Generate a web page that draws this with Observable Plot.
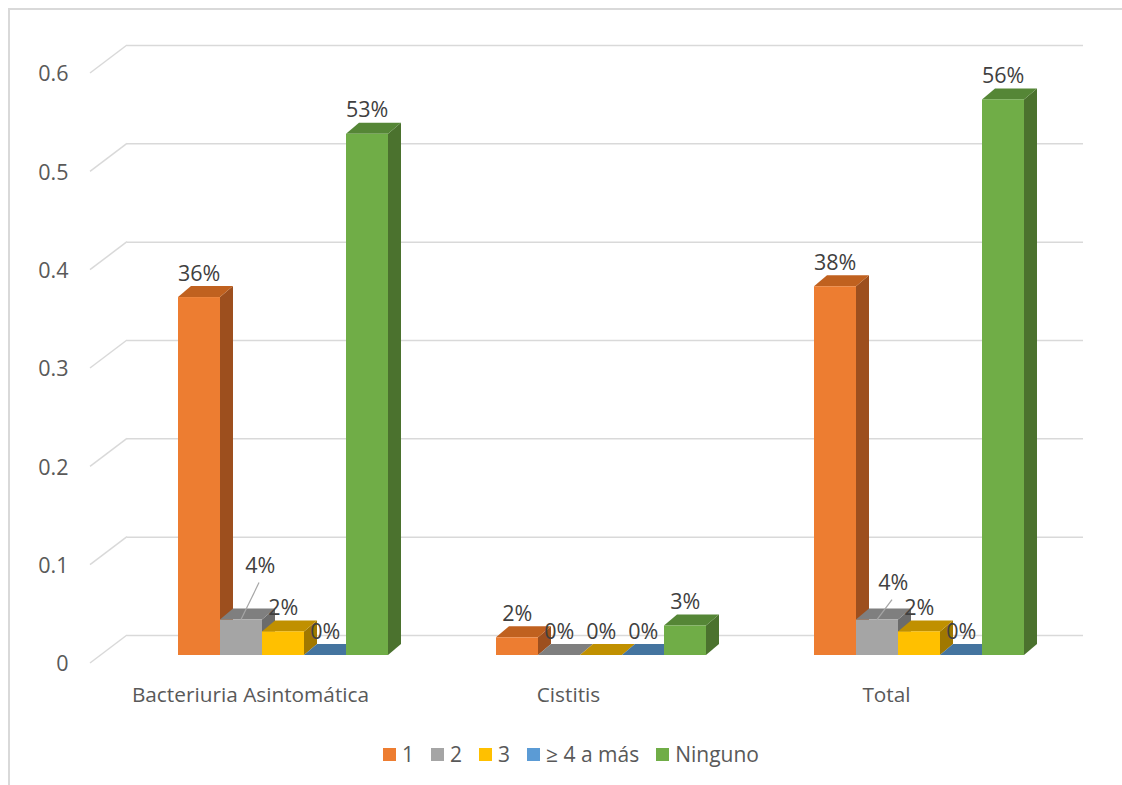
<!DOCTYPE html>
<html><head><meta charset="utf-8">
<script src="https://cdn.jsdelivr.net/npm/d3@7"></script>
<script src="https://cdn.jsdelivr.net/npm/@observablehq/plot@0.6"></script>
<style>
body{margin:0;background:#fff;font-family:"Open Sans",sans-serif}
#wrap{position:relative;width:1122px;height:785px;overflow:hidden}
#frame{position:absolute;left:8px;top:8px;right:-10px;bottom:-10px;border-left:2px solid #d9d9d9;border-top:2px solid #d9d9d9;pointer-events:none}
#chart{position:absolute;left:0;top:0}
#legend{position:absolute;left:10px;top:740px;width:1122px;display:flex;justify-content:center;align-items:center;font-size:21px;color:#595959}
.item{display:flex;align-items:center;margin:0 8.5px}
.sw{width:13px;height:13px;margin-right:6px}
</style></head><body>
<div id="wrap"><div id="frame"></div><div id="chart"></div><div id="legend"></div></div>
<script>
// ---- data ----
const categories = ["Bacteriuria Asintomática", "Cistitis", "Total"];
const seriesNames = ["1", "2", "3", "≥ 4 a más", "Ninguno"];
const valuesS1 = [0.364, 0.018, 0.375];
const valuesS2 = [0.036, 0, 0.036];
const valuesS3 = [0.024, 0, 0.024];
const valuesS4 = [0, 0, 0];
const valuesNinguno = [0.53, 0.03, 0.565];
const yTicks = [0, 0.1, 0.2, 0.3, 0.4, 0.5, 0.6];

// ---- styles ----
const palette = {
  front: ["#ED7D31", "#A5A5A5", "#FFC000", "#5B9BD5", "#70AD47"],
  top:   ["#C0611F", "#7F7F7F", "#C09000", "#44749F", "#558636"],
  side:  ["#9D4F1E", "#6B6B6B", "#A07800", "#365F87", "#4B722E"]
};
const W = 1122, H = 730, mL = 90, mR = 76, mT = 65, mB = 75;
const G = {barStart: 87, barW: 42, depthX: 13, depthY: -11, gridDX: 37, gridDY: -20, floorDY: 8};
const bandW = (W - mL - mR) / categories.length;
const labelNudges = [
  {cat: "Bacteriuria Asintomática", j: 1, dx: 19, dy: -30},
  {cat: "Total", j: 1, dx: 16, dy: -13}
];
const fmtPct = d3.format(".0%");

const seriesValues = [valuesS1, valuesS2, valuesS3, valuesS4, valuesNinguno];
const rows = seriesValues.flatMap((vals, j) => vals.map((v, i) => ({cat: categories[i], series: seriesNames[j], j, value: v})));
const nudgeOf = d => labelNudges.find(n => n.cat === d.cat && n.j === d.j);

function gridDiagonals(index, {y}) {
  const g = d3.create("svg:g").attr("stroke", "#D9D9D9").attr("stroke-width", 1.5);
  for (const t of yTicks) {
    g.append("line").attr("x1", mL).attr("y1", y(t) + G.floorDY)
      .attr("x2", mL + G.gridDX).attr("y2", y(t) + G.gridDY);
  }
  return g.node();
}

function cubes(index, {x, y}) {
  const g = d3.create("svg:g");
  for (const d of rows) {
    const x0 = x(d.cat) + G.barStart + G.barW * d.j, x1 = x0 + G.barW;
    const yb = y(0), yt = y(d.value), dx = G.depthX, dy = G.depthY;
    g.append("polygon").attr("points", [[x1, yt], [x1 + dx, yt + dy], [x1 + dx, yb + dy], [x1, yb]].join(" ")).attr("fill", palette.side[d.j]);
    g.append("polygon").attr("points", [[x0, yt], [x0 + dx, yt + dy], [x1 + dx, yt + dy], [x1, yt]].join(" ")).attr("fill", palette.top[d.j]);
    if (yb - yt > 0) g.append("rect").attr("x", x0).attr("y", yt).attr("width", G.barW).attr("height", yb - yt).attr("fill", palette.front[d.j]);
  }
  return g.node();
}

function leaders(index, {x, y}) {
  const g = d3.create("svg:g").attr("stroke", "#A6A6A6").attr("stroke-width", 1.2);
  for (const n of labelNudges) {
    const d = rows.find(r => r.cat === n.cat && r.j === n.j);
    const cx = x(d.cat) + G.barStart + G.barW * d.j + G.barW / 2;
    const yt = y(d.value);
    g.append("line").attr("x1", cx).attr("y1", yt).attr("x2", cx + n.dx - 1).attr("y2", yt - 17 + n.dy + 10);
  }
  return g.node();
}

const labelMarks = seriesNames.map((s, j) => Plot.text(rows.filter(d => d.j === j && !nudgeOf(d)), {
  x: "cat", y: "value", text: d => fmtPct(d.value),
  dx: G.barStart + G.barW * j + G.barW / 2 - bandW / 2, dy: -17,
  lineAnchor: "bottom", fill: "#404040", fontSize: 21.5
}));
const nudgedMarks = labelNudges.map(n => Plot.text(rows.filter(d => d.cat === n.cat && d.j === n.j), {
  x: "cat", y: "value", text: d => fmtPct(d.value),
  dx: G.barStart + G.barW * n.j + G.barW / 2 - bandW / 2 + n.dx, dy: -17 + n.dy,
  lineAnchor: "bottom", fill: "#404040", fontSize: 21.5
}));

const chart = Plot.plot({
  width: W, height: H,
  marginLeft: mL, marginRight: mR, marginTop: mT, marginBottom: mB,
  style: {fontFamily: "'Open Sans', sans-serif", color: "#595959", background: "transparent", overflow: "visible"},
  x: {type: "band", domain: categories, padding: 0, label: null},
  y: {domain: [0, 0.6], label: null},
  marks: [
    Plot.ruleY(yTicks, {y: d => d, dx: G.gridDX, dy: G.gridDY, stroke: "#D9D9D9", strokeWidth: 1.5}),
    gridDiagonals,
    Plot.axisY({ticks: yTicks, tickSize: 0, tickPadding: 22, dy: 9, fontSize: 21.5, tickFormat: d3.format("~g"), label: null}),
    Plot.axisX({tickSize: 0, tickPadding: 32, fontSize: 20.8, label: null}),
    cubes,
    leaders,
    ...labelMarks,
    ...nudgedMarks
  ]
});
document.getElementById("chart").append(chart);

const legend = d3.select("#legend");
seriesNames.forEach((s, j) => {
  const it = legend.append("div").attr("class", "item");
  it.append("div").attr("class", "sw").style("background", palette.front[j]);
  it.append("span").text(s);
});
</script>
</body></html>
